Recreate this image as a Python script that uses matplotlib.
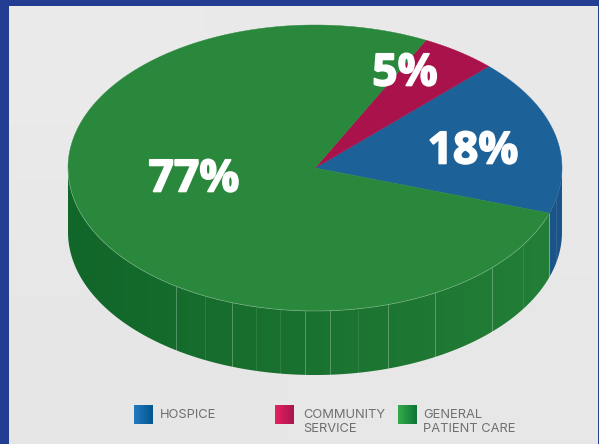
import numpy as np
import matplotlib
matplotlib.use('Agg')
import matplotlib.pyplot as plt
import matplotlib.patheffects as pe
from matplotlib.colors import LinearSegmentedColormap
from matplotlib.patches import Polygon

categories = ['HOSPICE', 'COMMUNITY\nSERVICE', 'GENERAL\nPATIENT CARE']
shares = [17.7, 5, 77.3]
share_labels = ['18%', '5%', '77%']
top_colors = ['#1C6299', '#A9124A', '#2A883C']
side_left = ['#1A5488', '#8A0F3C', '#116629']
side_right = ['#1A5488', '#8A0F3C', '#237F37']
swatch_colors = [('#2079BF', '#05568F'), ('#E6215F', '#A81550'), ('#33AB4A', '#0E7437')]
swatch_x = [134, 275, 398]
text_x = [160, 303, 423]

# facet seams on the wall of the pie, given by x pixel
seams_strong = [176, 232, 305, 330, 388, 435, 492, 549]
seams_faint = [205, 256, 280, 358, 523, 556]

# pie geometry in pixels
cx, cy = 315, 168
rx, ry = 247, 143
depth = 64
start = -18.4

W, H = 599, 444
plt.rcParams['font.family'] = ['Open Sans', 'DejaVu Sans']
fig = plt.figure(figsize=(W / 100, H / 100), dpi=100)
ax = fig.add_axes([0, 0, 1, 1])
ax.set_xlim(0, W)
ax.set_ylim(H, 0)
ax.axis('off')


def ellipse(t):
    t = np.radians(t)
    return cx + rx * np.cos(t), cy - ry * np.sin(t)


def wall_y(x, offset=0):
    return cy + offset + ry * np.sqrt(np.clip(1 - ((x - cx) / rx) ** 2, 0, 1))


# background and frame
bg = np.array([[0.915, 0.91], [0.9, 0.905]])
ax.imshow(bg, extent=[0, W, H, 0], cmap='gray', vmin=0, vmax=1, aspect='auto', interpolation='bilinear', zorder=0)
ax.fill([0, W, W, 0], [0, 0, 6, 6], color='#223D91', lw=0, zorder=1)
ax.fill([0, 9, 9, 0], [0, 0, H, H], color='#223D91', lw=0, zorder=1)
ax.fill([598, W, W, 598], [0, 0, H, H], color='#223D91', lw=0, zorder=1)

angles = start + np.cumsum([0] + shares) * 360 / sum(shares)

# wall, one gradient image per slice clipped to the visible rim
for i in range(len(shares)):
    ts = np.linspace(angles[i], angles[i + 1], 400)
    ts = ts[np.sin(np.radians(ts)) <= 0.0]
    if len(ts) < 2:
        continue
    xs, ys = ellipse(ts)
    poly = Polygon(np.c_[np.r_[xs, xs[::-1]], np.r_[ys, ys[::-1] + depth]], transform=ax.transData)
    cmap = LinearSegmentedColormap.from_list('side', [side_left[i], side_right[i]])
    img = ax.imshow(np.linspace(0, 1, 256)[None, :], extent=[cx - rx, cx + rx, H, 0], cmap=cmap,
                    aspect='auto', zorder=2)
    img.set_clip_path(poly)

for xs, alpha in [(seams_strong, 0.28), (seams_faint, 0.1)]:
    for x in xs:
        ax.plot([x, x], [wall_y(x), wall_y(x, depth)], color='white', lw=0.7, alpha=alpha, zorder=3)

# top of the pie
for i in range(len(shares)):
    ts = np.linspace(angles[i], angles[i + 1], 300)
    xs, ys = ellipse(ts)
    ax.fill(np.r_[cx, xs], np.r_[cy, ys], color=top_colors[i], lw=0.3, zorder=4)

# thin light rim on the front edge
ts = np.linspace(180, 340, 400)
ax.plot(*ellipse(ts), color='white', lw=0.5, alpha=0.3, zorder=5)

label_pos = [(473, 152), (405, 74), (194, 180)]
for lab, (x, y) in zip(share_labels, label_pos):
    ax.text(x, y, lab, color='white', fontsize=32, fontweight='bold', ha='center', va='center', zorder=6,
            path_effects=[pe.withStroke(linewidth=1.2, foreground='white')])

# legend
for i, name in enumerate(categories):
    cmap = LinearSegmentedColormap.from_list('sw', list(swatch_colors[i]))
    x = swatch_x[i]
    ax.imshow(np.linspace(0, 1, 32)[None, :], extent=[x, x + 19, 424, 405], cmap=cmap, aspect='auto', zorder=6)
    ax.text(text_x[i], 409, name, color='#6F7072', fontsize=9.3, family=['Inter', 'DejaVu Sans'],
            va='top', ha='left', linespacing=1.2, zorder=6)

ax.set_xlim(0, W)
ax.set_ylim(H, 0)
fig.savefig('out.png', dpi=100)
